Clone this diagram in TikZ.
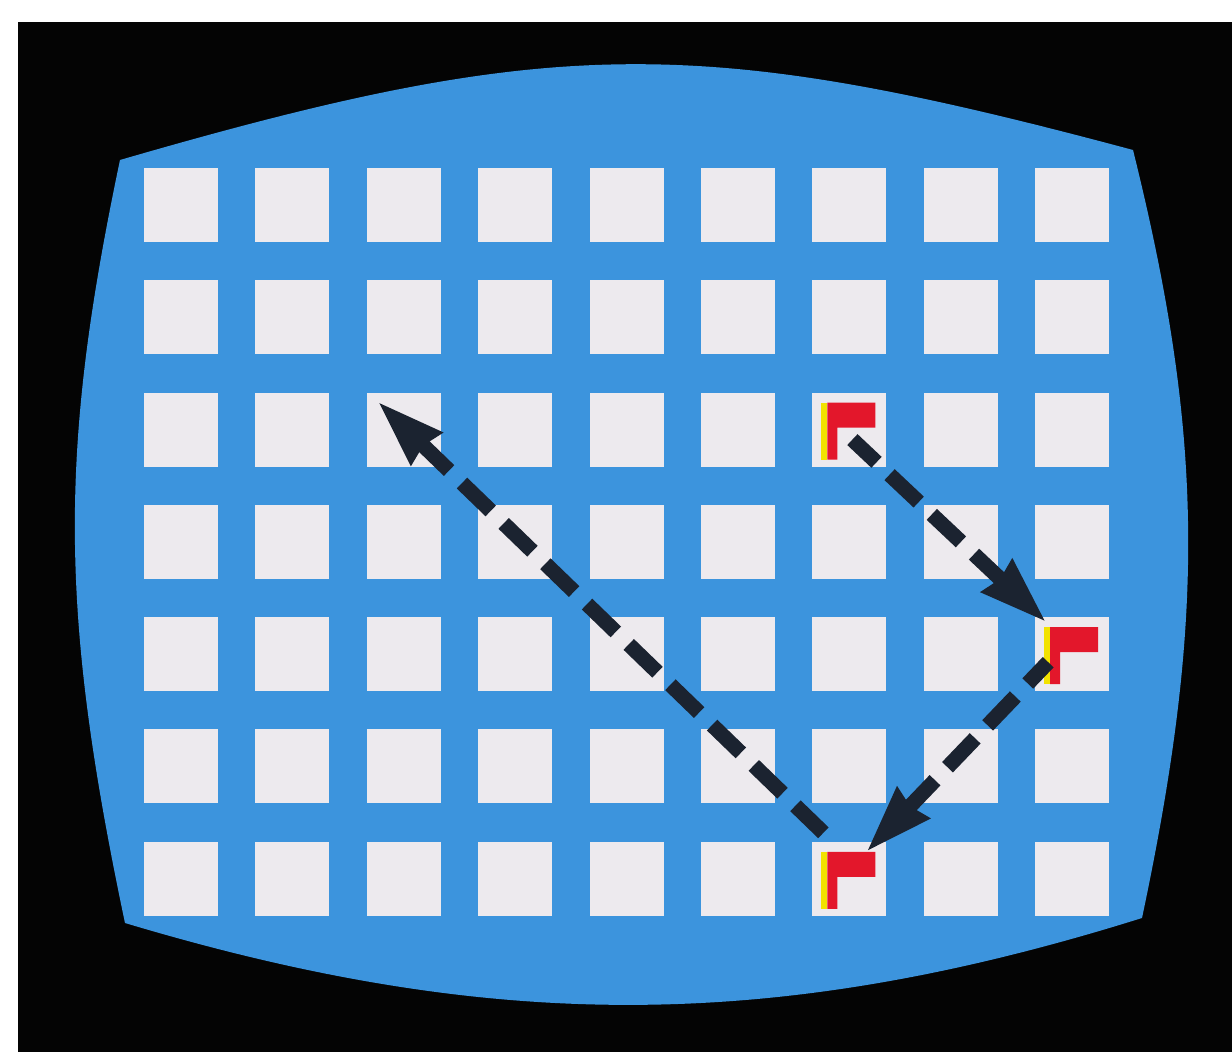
\documentclass[tikz,border=0pt]{standalone}
\usetikzlibrary{arrows.meta}
\definecolor{tubeblack}{HTML}{040404}
\definecolor{screenblue}{HTML}{3C94DD}
\definecolor{cellwhite}{HTML}{EDEAEE}
\definecolor{markred}{HTML}{E3172B}
\definecolor{markyellow}{HTML}{F2E200}
\definecolor{moveink}{HTML}{1B2330}
\tikzset{
  screen/.style={fill=screenblue},
  cell/.style={fill=cellwhite, minimum size=37pt, inner sep=0pt, outer sep=0pt},
  flagred/.style={fill=markred},
  flagedge/.style={fill=markyellow},
  % drawn from the tip back, so the dashes start at the arrowhead
  moveline/.style={draw=moveink, line width=7.5pt, dash pattern=on 20pt off 9pt,
    {Stealth[length=33pt,width=21pt,inset=1.5pt]}-}
}
% red corner flag with yellow edge, placed in a cell
\newcommand{\flagmark}[1]{%
  \fill[flagedge] ([shift={(9,10)}]#1.north west) rectangle ([shift={(15,67)}]#1.north west);
  \fill[flagred] ([shift={(15,10)}]#1.north west) -- ++(48,0) -- ++(0,25) -- ++(-38,0) -- ++(0,32) -- ++(-10,0) -- cycle;
}

\begin{document}
\begin{tikzpicture}[x=0.5pt,y=-0.5pt]
\useasboundingbox (0,0) rectangle (1232,1052);
\fill[white] (0,0) rectangle (1232,1052);
\fill[tubeblack] (18,22) rectangle (1232,1052);
% tube face
\fill[screen] (120,160) .. controls (554,34) and (700,34) .. (1133,150)
  .. controls (1205,440) and (1205,620) .. (1142,918)
  .. controls (775,1033) and (492,1033) .. (125,923)
  .. controls (59,610) and (59,450) .. cycle;
% 9 x 7 grid of cells
\foreach \i in {1,...,9}
  \foreach \j in {1,...,7}
    \node[cell] (sq-\i-\j) at ({181+111.4*(\i-1)},{205+112.3*(\j-1)}) {};
% flags
\foreach \s in {sq-7-3,sq-9-5,sq-7-7} \flagmark{\s};
% moves
\draw[moveline] ([shift={(11,5)}]sq-9-5.north west) -- ([shift={(3,10)}]sq-7-3.center);
\draw[moveline] ([shift={(54,10)}]sq-7-7.north west) -- ([shift={(13,45)}]sq-9-5.north west);
\draw[moveline] ([shift={(11,9)}]sq-3-3.north west) -- ([shift={(11,-9)}]sq-7-7.north west);
\end{tikzpicture}
\end{document}
